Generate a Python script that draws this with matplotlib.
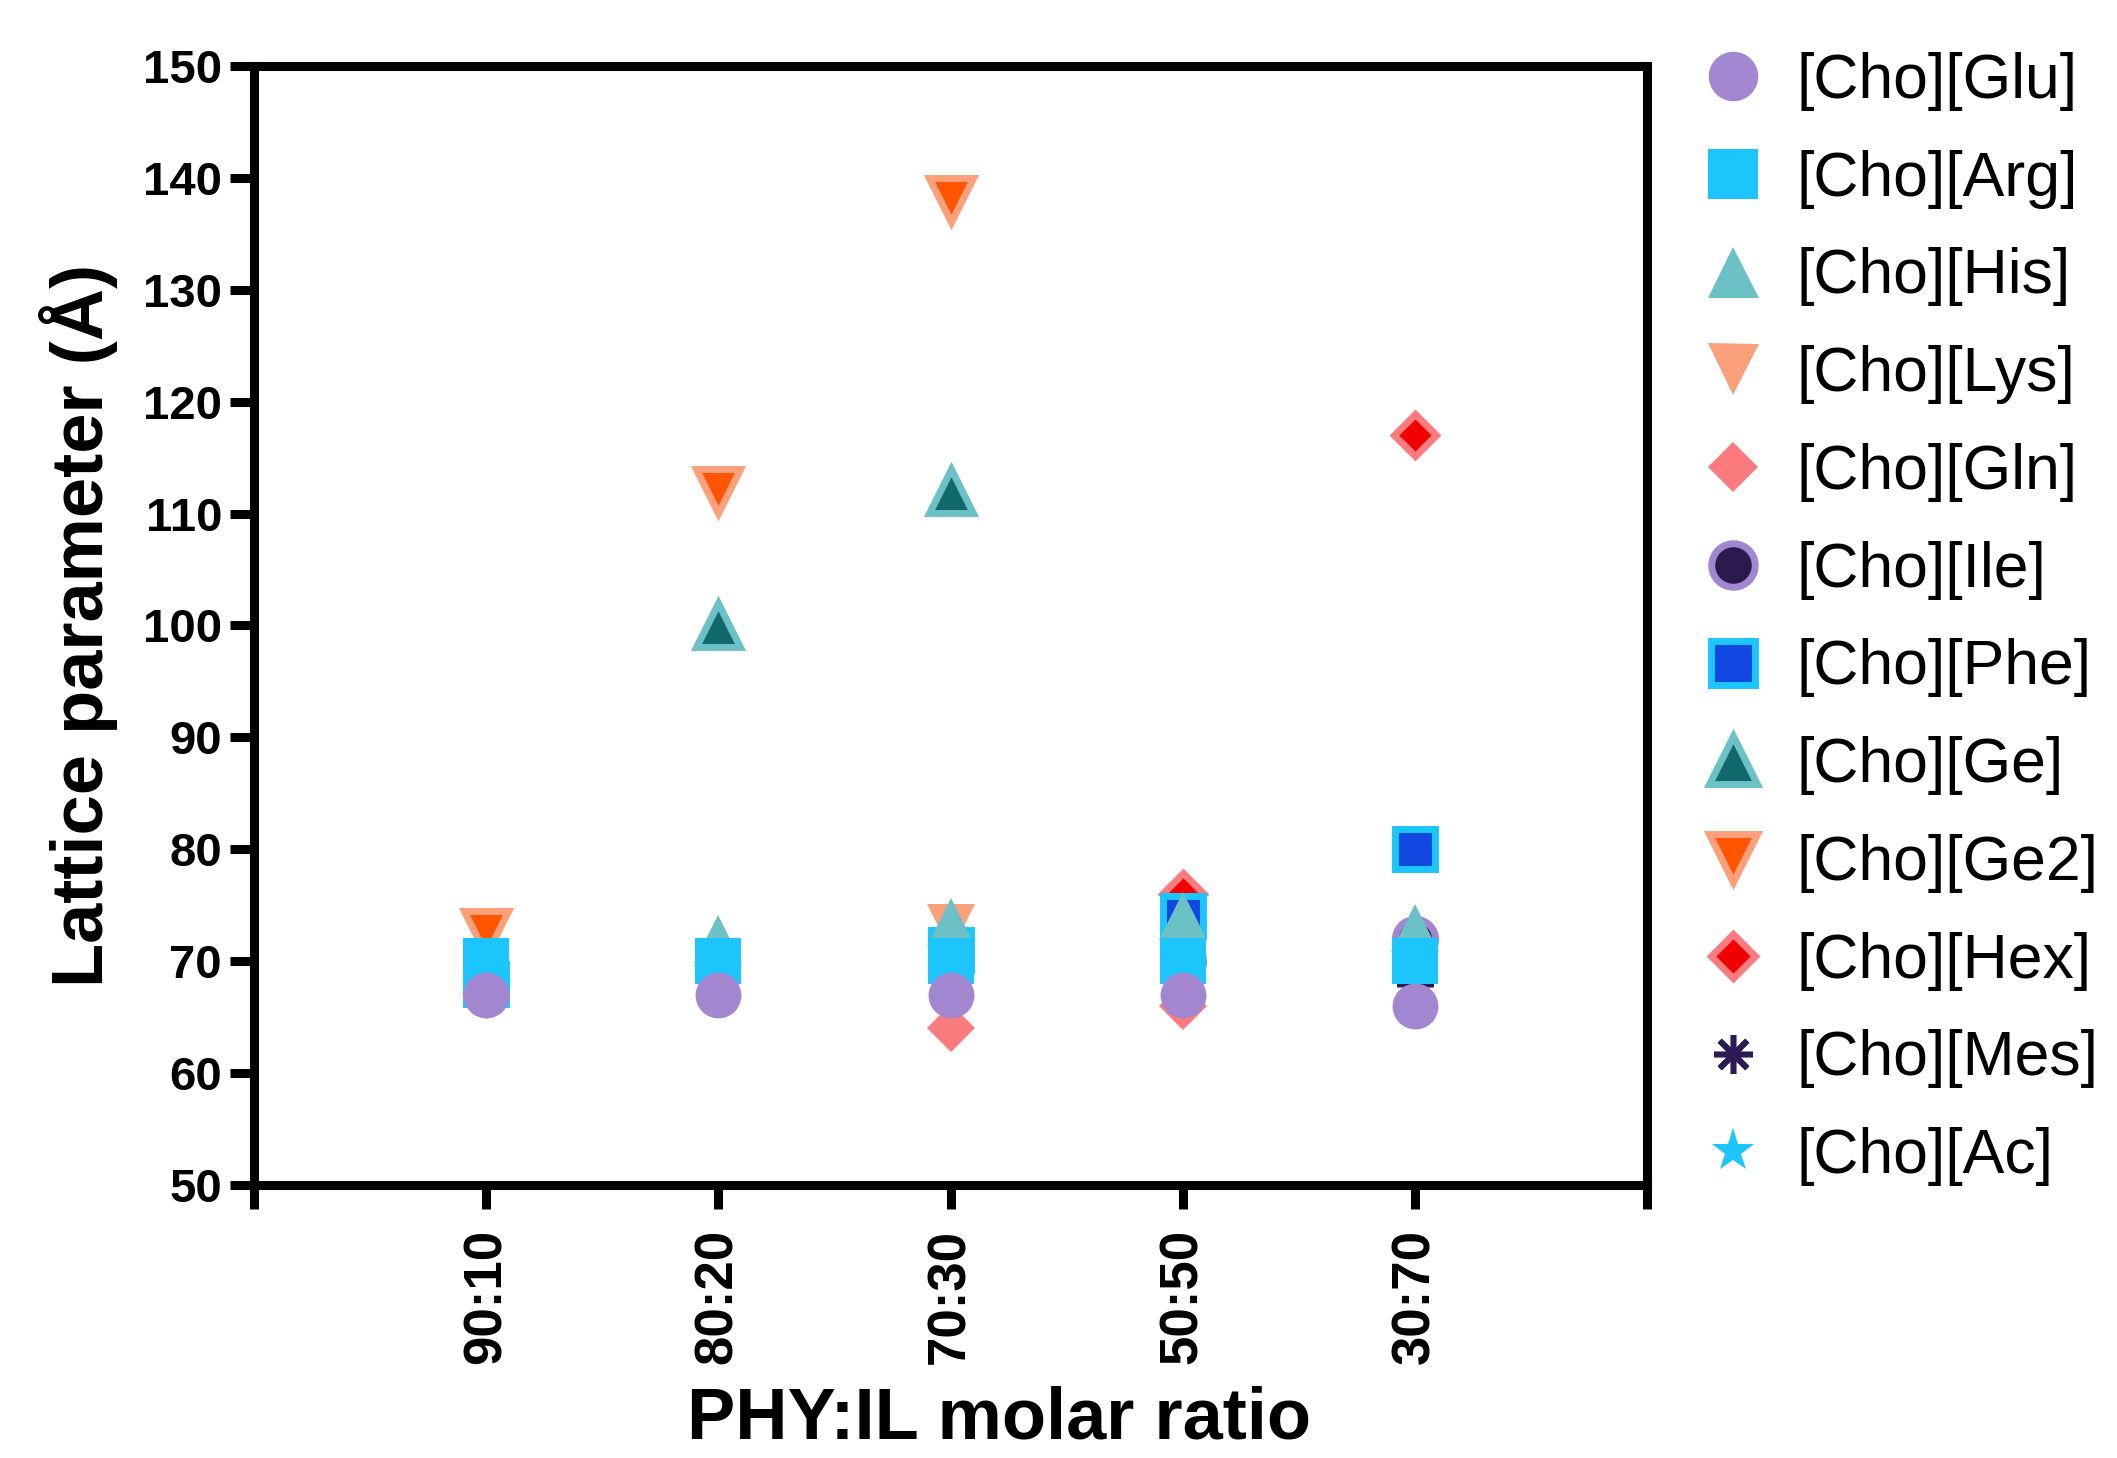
import numpy as np
import matplotlib
matplotlib.use('Agg')
import matplotlib.pyplot as plt

plt.rcParams['font.family'] = ['Liberation Sans', 'DejaVu Sans']

ratios = ['90:10', '80:20', '70:30', '50:50', '30:70']
nan = np.nan

# lattice parameter (Å) per IL at each molar ratio
glu = [67, 67, 67, 67, 66]
arg = [70, 70, 70, 70, 70]
his = [nan, 72, 73.5, 74, 73]
lys = [nan, nan, 73, nan, nan]
gln = [67, nan, 64, 66, nan]
ile = [nan, nan, nan, 70, 72]
phe = [68, nan, 71, 74, 80]
ge = [nan, 100, 112, nan, nan]
ge2 = [72.5, 112, 138, nan, nan]
hex_ = [nan, nan, nan, 76, 117]
mes = [nan, nan, nan, nan, 68]
ac = [nan, nan, nan, nan, 68]

labels = ['[Cho][Glu]', '[Cho][Arg]', '[Cho][His]', '[Cho][Lys]', '[Cho][Gln]',
          '[Cho][Ile]', '[Cho][Phe]', '[Cho][Ge]', '[Cho][Ge2]', '[Cho][Hex]',
          '[Cho][Mes]', '[Cho][Ac]']
values = [glu, arg, his, lys, gln, ile, phe, ge, ge2, hex_, mes, ac]

purple = '#A287D0'
cyan = '#1CC5FB'
teal = '#6CC1C6'
peach = '#FBA07A'
pink = '#FB7B7F'
# (marker, face, edge, size, edge width)
styles = [
    ('o', purple, purple, 33, 0),
    ('s', cyan, cyan, 33, 0),
    ('^', teal, teal, 34, 0),
    ('v', peach, peach, 34, 0),
    ('D', pink, pink, 24, 0),
    ('o', '#2A1A4E', purple, 29, 5),
    ('s', '#1148E0', cyan, 29, 5),
    ('^', '#11696E', teal, 32, 5),
    ('v', '#FF5500', peach, 32, 5),
    ('D', '#F00000', pink, 21, 5),
    ((8, 2, 0), '#2E1A57', '#2E1A57', 26, 4),
    ('*', cyan, cyan, 30, 0),
]

fig = plt.figure(figsize=(21.17, 14.58), dpi=100)
ax = fig.add_axes([0.12, 0.1873, 0.658, 0.7674])

x = np.arange(1, len(ratios) + 1)
n = len(values)
for i, (lab, vals, st) in enumerate(zip(labels, values, styles)):
    m, fc, ec, ms, mew = st
    ax.plot(x, vals, linestyle='none', marker=m, markerfacecolor=fc,
            markeredgecolor=ec, markersize=ms, markeredgewidth=mew,
            label=lab, zorder=10 + n - i, clip_on=False)

ax.set_xlim(0, 6)
ax.set_ylim(50, 150)
ax.set_xticks(range(0, 7))
ax.set_xticklabels([''] + ratios + [''], rotation=90)
ax.set_yticks(range(50, 151, 10))

for s in ax.spines.values():
    s.set_linewidth(6.5)
ax.tick_params(axis='both', width=6.5, length=17)
ax.tick_params(axis='y', labelsize=34, pad=6)
ax.tick_params(axis='x', labelsize=38, pad=15)
for t in ax.get_xticklabels() + ax.get_yticklabels():
    t.set_fontweight('bold')

ax.set_ylabel('Lattice parameter (Å)', fontsize=52, fontweight='bold', labelpad=18)
xl = ax.set_xlabel('PHY:IL molar ratio', fontsize=52, fontweight='bold')
xl.set_va('baseline')
ax.xaxis.set_label_coords(0.535, -0.227)

ax.legend(loc='upper left', bbox_to_anchor=(1.021, 1.035), frameon=False,
          fontsize=45, labelspacing=0.62, handlelength=1.0, handletextpad=0.52,
          markerscale=1.08, borderaxespad=0)

fig.savefig('out.png', dpi=100)
